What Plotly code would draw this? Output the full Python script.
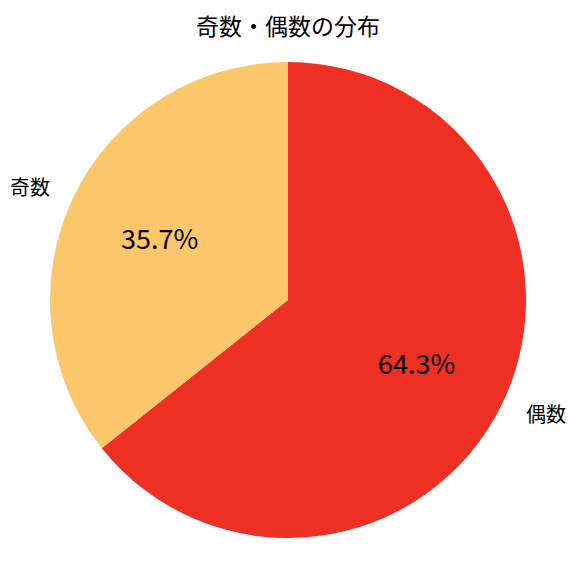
import math
import plotly.graph_objects as go

labels = ["奇数", "偶数"]
values = [35.7, 64.3]
colors = ["#FCC76A", "#EE2F24"]

fig = go.Figure()
# plotly lays the slices out the other way round, so feed them reversed
fig.add_trace(go.Pie(labels=labels[::-1], values=values[::-1], sort=False,
                     direction="counterclockwise", rotation=0,
                     marker=dict(colors=colors[::-1]), textinfo="none",
                     hoverinfo="label+percent", showlegend=False))

# labels outside (1.1 r) and percentages inside (0.6 r), like matplotlib
total = sum(values)
start = 90.0
for lab, val in zip(labels, values):
    ang = start + val / total * 360 / 2
    start += val / total * 360
    c, s = math.cos(math.radians(ang)), math.sin(math.radians(ang))
    fig.add_annotation(x=0.5 + 0.55 * c, y=0.5 + 0.55 * s, xref="paper", yref="paper",
                       text=lab, showarrow=False, xanchor="right" if c < 0 else "left",
                       yanchor="middle", font=dict(size=20, color="black"))
    fig.add_annotation(x=0.5 + 0.3 * c, y=0.5 + 0.3 * s, xref="paper", yref="paper",
                       text="{:.1f}%".format(val / total * 100), showarrow=False,
                       xanchor="center", yanchor="middle",
                       font=dict(size=27, color="black"))

fig.update_layout(width=576, height=576,
                  margin=dict(l=42, r=58, t=54, b=46),
                  paper_bgcolor="white",
                  font=dict(family="Noto Sans CJK JP"),
                  title=dict(text="奇数・偶数の分布", x=(288 - 8) / 576, xanchor="center",
                             y=1 - 19 / 576, yanchor="middle", yref="container",
                             font=dict(size=23, color="black")))
fig.write_html("out.html")
